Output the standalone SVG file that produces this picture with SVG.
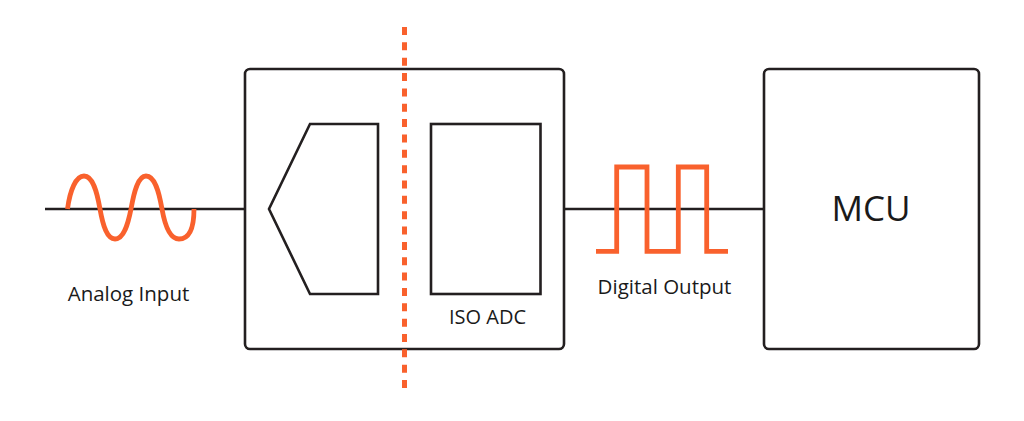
<svg xmlns="http://www.w3.org/2000/svg" width="1024" height="421" viewBox="0 0 1024 421">
<style>
.k{fill:none;stroke:#231f20;stroke-width:2.6}
.o{fill:none;stroke:#f9612d;stroke-width:4.800}
text{font-family:"Open Sans","Noto Sans","Liberation Sans",sans-serif;fill:#1a1a1a;text-anchor:middle}
</style>
<rect width="1024" height="421" fill="#fff"/>
<g id="connectors">
<path class="k" d="M45 209H245M564 209H764"/>
</g>
<g id="iso-adc">
<rect class="k" x="245" y="69" width="319" height="280" rx="5"/>
<path class="k" d="M310 124H378V294H310L269 209Z"/>
<rect class="k" x="431" y="124" width="109.500" height="170"/>
<text x="487.500" y="324" font-size="20">ISO ADC</text>
</g>
<g id="mcu">
<rect class="k" x="764" y="69" width="215" height="280" rx="5"/>
<text x="871" y="221" font-size="35">MCU</text>
</g>
<g id="analog-input">
<path class="o" d="M67.500 209C70 190 76 176 84 176C93 176 97 192 100 209C103 226 107 239 115 239C124 239 128 224 131 209C134 192 138 176 146 176C155 176 159 192 162 209C165 226 170 239 179 239C189 239 194 228 194 209"/>
<text x="128.500" y="301" font-size="20.500">Analog Input</text>
</g>
<g id="digital-output">
<path class="o" d="M596 251.300H616.700V167H647V251.300H678.300V167H706.700V251.300H728"/>
<text x="664.500" y="294" font-size="20.500">Digital Output</text>
</g>
<g id="isolation-barrier">
<path fill="none" stroke="#f9612d" stroke-width="5" stroke-dasharray="8 7.350" d="M404.500 27V388"/>
</g>
</svg>
